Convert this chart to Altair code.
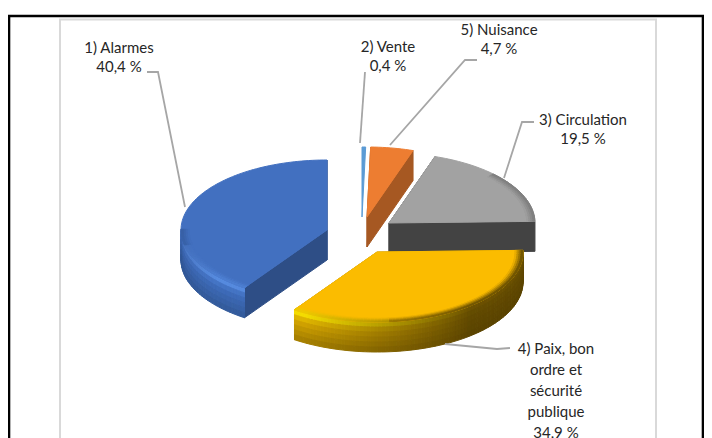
import math
import altair as alt
import pandas as pd

# --- chart values -----------------------------------------------------------
categories = ["2) Vente", "5) Nuisance", "3) Circulation",
              "4) Paix, bon ordre et sécurité publique", "1) Alarmes"]
shares = [0.4, 4.7, 19.5, 34.9, 40.4]
top_colours = ["#5b9bd5", "#ed7d31", "#a2a2a2", "#fbbc00", "#4270c0"]
label_lines = [["2) Vente", "0,4 %"], ["5) Nuisance", "4,7 %"],
               ["3) Circulation", "19,5 %"],
               ["4) Paix, bon", "ordre et", "sécurité", "publique", "34,9 %"],
               ["1) Alarmes", "40,4 %"]]

# --- geometry of the tilted, exploded pie (page pixels) ---------------------
W, H = 696, 430
RX, RY, DEPTH = 146, 70, 30
centres = [(362, 217), (367, 217), (389, 223), (377, 252), (327, 230)]
label_pos = [(388, 47), (499, 30), (583, 120), (556, 349), (119, 48)]
label_step = [19, 19, 18.5, 21, 19]
leaders = [[(365, 72), (360, 143)],
           [(477, 60), (465, 60), (390, 145)],
           [(534, 122), (522, 122), (504, 178)],
           [(510, 348), (497, 349), (445, 344)],
           [(147, 72), (158, 72), (185, 207)]]

# rim shading per slice: (dim, bright) colours at the top and bottom of the rim
rim_top = {3: ("#6e5300", "#fff000"), 4: ("#3a62a8", "#5f95ea")}
rim_mid = {3: ("#624a00", "#d8a900"), 4: ("#3a62a8", "#3f6dbd")}
rim_low = {3: ("#5a4300", "#a07b00"), 4: ("#2f5390", "#335a99")}


def mix(a, b, t):
    a = [int(a[i:i + 2], 16) for i in (1, 3, 5)]
    b = [int(b[i:i + 2], 16) for i in (1, 3, 5)]
    return "#%02x%02x%02x" % tuple(round(x + (y - x) * t) for x, y in zip(a, b))


total = sum(shares)
rows = []
pid = 0


def poly(pts, colour, layer):
    global pid
    pid += 1
    for k, (x, y) in enumerate(pts + [pts[0]]):
        rows.append(dict(id=pid, k=k, x=x, y=y, c=colour, layer=layer))


def pt(c, a, z=0, r=1.0):
    return (c[0] + r * RX * math.sin(a), c[1] - r * RY * math.cos(a) + z)


def light(i, a):
    d = math.degrees(a)
    if i == 3:
        return max(0.0, min(1.0, (d - 140) / 70))
    return max(0.0, min(1.0, (285 - d) / 55))


def band(i, l, v):
    """Colour across the rim: v = 0 at the upper edge, v = 1 at the lower edge."""
    top = mix(*rim_top[i], l)
    mid = mix(*rim_mid[i], l)
    low = mix(*rim_low[i], l)
    return mix(top, mid, v / 0.3) if v < 0.3 else mix(mid, low, (v - 0.3) / 0.7)


start = 0.0
for i, share in enumerate(shares):
    a0 = start / total * 2 * math.pi
    a1 = (start + share) / total * 2 * math.pi
    start += share
    c = centres[i]
    col = top_colours[i]
    n = max(2, int((a1 - a0) / 0.025))
    arc = [a0 + (a1 - a0) * j / n for j in range(n + 1)]
    dark = mix(col, "#000000", 0.3)
    if i == 2:
        dark = "#434343"
    if i > 0:
        # radial side faces
        for a in (a0, a1):
            poly([c, pt(c, a), pt(c, a, DEPTH), (c[0], c[1] + DEPTH)], dark, i * 10)
    if i in rim_top:
        # outer rim, shaded along the ellipse and across its height
        steps = 6
        for u, v in zip(arc[:-1], arc[1:]):
            mid = (u + v) / 2
            if math.cos(mid) > 0.02:
                continue
            l = light(i, mid)
            for s in range(steps):
                z0, z1 = DEPTH * s / steps, DEPTH * (s + 1) / steps
                poly([pt(c, u, z0), pt(c, v, z0), pt(c, v, z1), pt(c, u, z1)],
                     band(i, l, (s + 0.5) / steps), i * 10 + 2)
    # top face
    poly([c] + [pt(c, a) for a in arc], col, i * 10 + 3)
    if i in rim_top or i == 2:
        # soft bevel on the edge of the top face
        steps = 4
        for u, v in zip(arc[:-1], arc[1:]):
            mid = (u + v) / 2
            if i == 2:
                if math.degrees(mid) < 45:
                    continue
                edge = "#7b7b7b"
            else:
                if math.cos(mid) > 0.02:
                    continue
                edge = band(i, light(i, mid), 0.15 if light(i, mid) > 0.5 else 0.6)
            for s in range(steps):
                r0, r1 = 0.945 + 0.055 * s / steps, 0.945 + 0.055 * (s + 1) / steps
                poly([pt(c, u, 0, r0), pt(c, v, 0, r0), pt(c, v, 0, r1), pt(c, u, 0, r1)],
                     mix(col, edge, (s + 0.5) / steps), i * 10 + 4)

frame = pd.DataFrame(rows).sort_values(["layer", "id", "k"])

x = alt.X("x:Q", scale=alt.Scale(domain=[8, 8 + W], nice=False), axis=None)
y = alt.Y("y:Q", scale=alt.Scale(domain=[8 + H, 8], nice=False), axis=None)

faces = []
for layer, part in frame.groupby("layer", sort=True):
    faces.append(
        alt.Chart(part).mark_line(filled=True, strokeWidth=1).encode(
            x=x, y=y, detail="id:N", order="k:Q",
            fill=alt.Fill("c:N", scale=None, legend=None),
            stroke=alt.Stroke("c:N", scale=None, legend=None),
        )
    )

leader_rows = [dict(id=i, k=k, x=p[0], y=p[1]) for i, ln in enumerate(leaders) for k, p in enumerate(ln)]
leader_chart = alt.Chart(pd.DataFrame(leader_rows)).mark_line(color="#a6a6a6", strokeWidth=1.8).encode(
    x=x, y=y, detail="id:N", order="k:Q")

text_rows = []
for (lx, ly), lines, step in zip(label_pos, label_lines, label_step):
    for k, t in enumerate(lines):
        text_rows.append(dict(x=lx, y=ly + k * step, t=t))
labels = alt.Chart(pd.DataFrame(text_rows)).mark_text(
    font="Lato", fontSize=15, color="#262626", align="center", baseline="middle"
).encode(x=x, y=y, text="t:N")


def box(x0, y0, x1, y1):
    return pd.DataFrame([dict(x=x0, y=y0, x2=x1, y2=y1)])


outer = alt.Chart(box(9, 16, 703, 460)).mark_rect(fill="white", stroke="#000000", strokeWidth=2.6).encode(
    x=x, y=y, x2="x2:Q", y2="y2:Q")
inner = alt.Chart(box(60, 19.5, 656, 460)).mark_rect(fill="white", stroke="#d9d9d9", strokeWidth=2).encode(
    x=x, y=y, x2="x2:Q", y2="y2:Q")

chart = alt.layer(outer, inner, *faces, leader_chart, labels).properties(
    width=W, height=H, padding=0, background="white",
    autosize=alt.AutoSizeParams(type="none"),
).configure_view(stroke=None, clip=False)

chart.save("out.html", embed_options={"renderer": "svg", "actions": False})
